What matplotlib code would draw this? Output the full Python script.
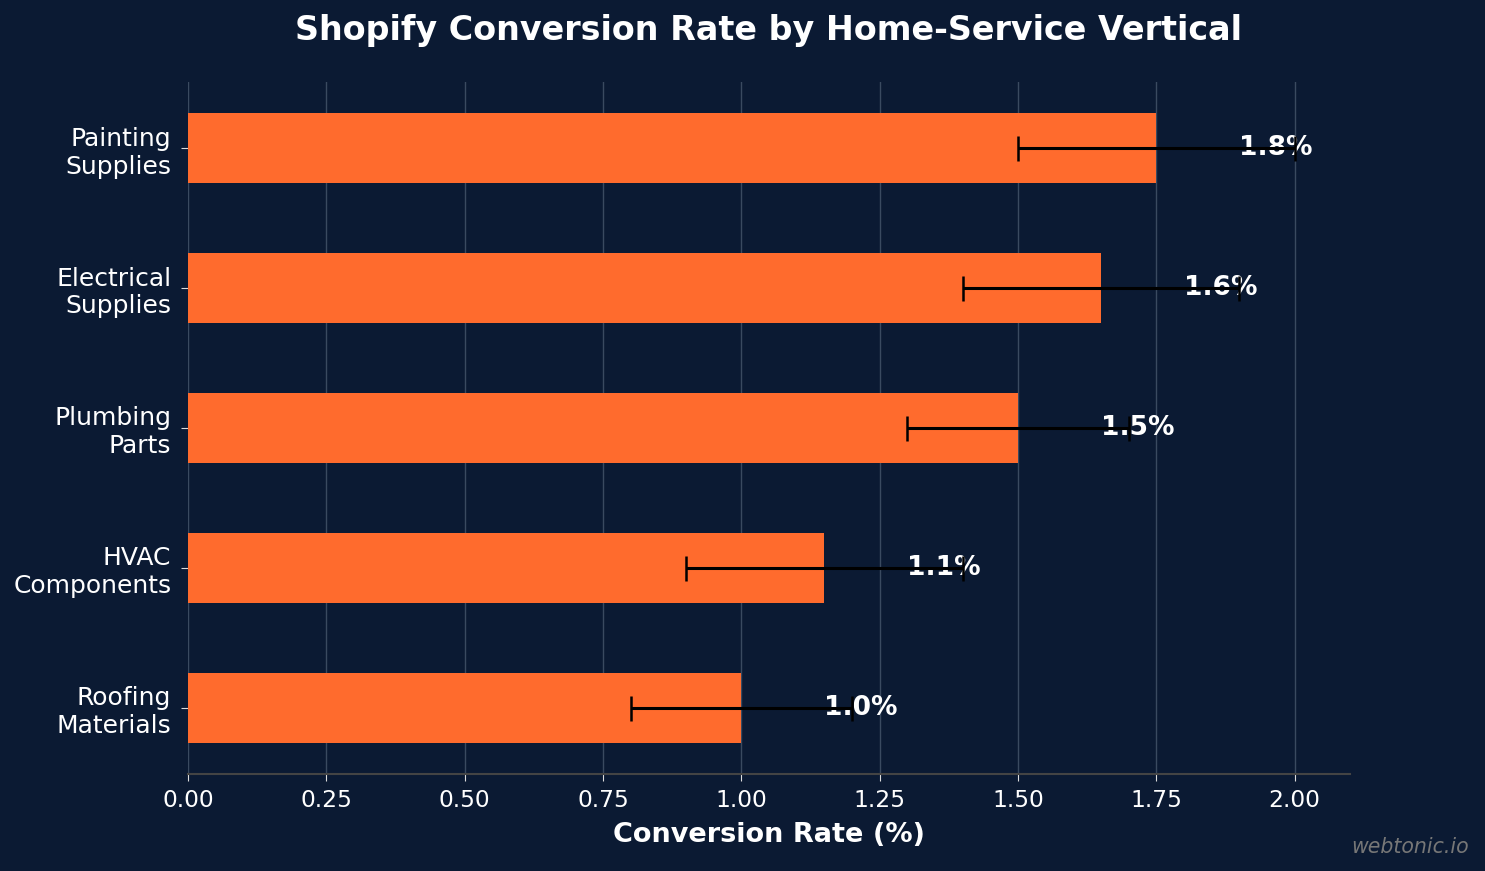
import numpy as np
import matplotlib
matplotlib.use("Agg")
import matplotlib.pyplot as plt

# data
categories = ["Roofing\nMaterials", "HVAC\nComponents", "Plumbing\nParts", "Electrical\nSupplies", "Painting\nSupplies"]
rates = [1.00, 1.15, 1.50, 1.65, 1.75]
errors = [0.20, 0.25, 0.20, 0.25, 0.25]
xticks = [0.0, 0.25, 0.5, 0.75, 1.0, 1.25, 1.5, 1.75, 2.0]

bg = "#0b1a33"
bar_color = "#ff6b2d"

fig = plt.figure(figsize=(14.85, 8.71), dpi=100, facecolor=bg)
ax = fig.add_axes([0.1266, 0.1114, 0.7824, 0.7946])
ax.set_facecolor(bg)

y = np.arange(len(categories))
ax.barh(y, rates, height=0.5, color=bar_color, zorder=2)

# value labels sit under the error bars
for yi, v in zip(y, rates):
    ax.text(v + 0.15, yi, f"{v:.1f}%", va="center", ha="left", color="white",
            fontsize=19, fontweight="bold", zorder=3)

ax.errorbar(rates, y, xerr=errors, fmt="none", ecolor="black", elinewidth=2.2,
            capsize=9, capthick=1.8, zorder=5)

ax.set_yticks(y)
ax.set_yticklabels(categories)
ax.set_xlim(0, 2.1)
ax.set_xticks(xticks)
ax.set_xticklabels([f"{t:.2f}" for t in xticks])

ax.tick_params(axis="x", colors="#dddddd", labelcolor="white", labelsize=16.8, length=5, pad=6)
ax.tick_params(axis="y", colors="#dddddd", labelcolor="white", labelsize=18, length=5, pad=7)
ax.grid(axis="x", color="#3a4a60", linewidth=1, zorder=0)
ax.set_axisbelow(True)

for s in ["top", "right", "left"]:
    ax.spines[s].set_visible(False)
ax.spines["bottom"].set_color("#444444")
ax.spines["bottom"].set_linewidth(1.5)

ax.set_xlabel("Conversion Rate (%)", color="white", fontsize=19.5, fontweight="bold", labelpad=7)
ax.set_title("Shopify Conversion Rate by Home-Service Vertical", color="white",
             fontsize=24, fontweight="bold", pad=30)

fig.text(0.989, 0.016, "webtonic.io", color="#777777", fontsize=14.8, style="italic",
         ha="right", va="bottom")

fig.savefig("out.png", dpi=100, facecolor=bg)
